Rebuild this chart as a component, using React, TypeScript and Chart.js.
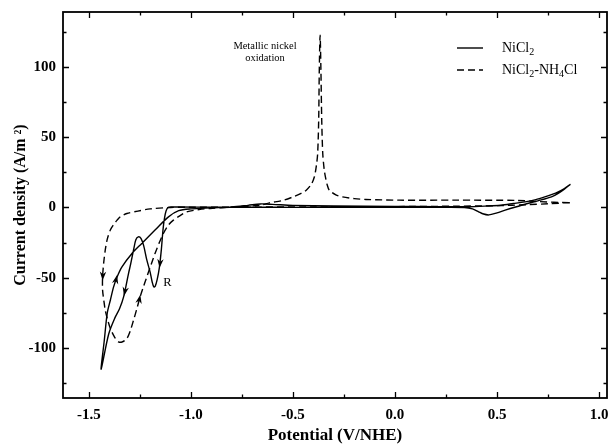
import React, { useEffect, useRef } from "react";
import { Chart, registerables } from "chart.js";

Chart.register(...registerables);

// ---- Axis ranges & ticks ----
const X_MIN = -1.627;
const X_MAX = 1.039;
const Y_MIN = -135.5;
const Y_MAX = 139;
const X_STEP = 0.5;
const Y_STEP = 50;
const X_MINOR = [-1.5, -1.25, -1.0, -0.75, -0.5, -0.25, 0, 0.25, 0.5, 0.75, 1.0];
const Y_MINOR = [-125, -100, -75, -50, -25, 0, 25, 50, 75, 100, 125];

// ---- Series: NiCl2 (solid) ----
const nicl2X = [
  0.86, 0.83, 0.8, 0.767, 0.7, 0.62, 0.54, 0.5, 0.46, 0.43, 0.41, 0.38, 0.34, 0.2, 0.0, -0.3, -0.6, -0.9, -1.05,
  -1.09, -1.111, -1.122, -1.13, -1.137, -1.145, -1.155, -1.165, -1.175, -1.182, -1.19, -1.2, -1.216, -1.232,
  -1.245, -1.258, -1.27, -1.281, -1.295, -1.306, -1.33, -1.35, -1.371, -1.403, -1.44,
  -1.425, -1.41, -1.395, -1.379, -1.362, -1.338, -1.289, -1.241, -1.176, -1.11, -1.06, -1.0, -0.9, -0.8, -0.72,
  -0.66, -0.6, -0.5, -0.3, 0.0, 0.2, 0.36, 0.45, 0.52, 0.58, 0.637, 0.69, 0.734, 0.77, 0.8, 0.83, 0.86,
];
const nicl2Y = [
  16.5, 13, 10, 7.5, 4.7, 1.6, -1.9, -3.8, -5.3, -4.5, -3.1, -1.0, 0, 0.1, 0.1, 0.1, 0.1, 0.2, 0.3,
  0.3, 0, -2.5, -8, -16, -30, -43, -51, -56, -56.5, -53, -46, -37.5, -27,
  -22, -20.9, -23, -30, -40, -47, -63.6, -72, -78, -90, -115,
  -95, -75, -66, -56.5, -49.4, -42.2, -32.7, -25.6, -16.1, -6.7, -2.3, -1.0, -0.3, 0.3, 1.5,
  2.5, 2.2, 1.5, 1.0, 0.8, 0.6, 0.5, 1.0, 1.6, 2.8, 4, 5.6, 7.5, 9.3, 11.1, 13.5, 16.5,
];

// ---- Series: NiCl2-NH4Cl (dashed) ----
const nh4X = [
  0.857, 0.75, 0.65, 0.5, 0.3, 0.0, -0.4, -0.8, -1.02, -1.1, -1.2, -1.26, -1.314, -1.345, -1.362, -1.38, -1.395,
  -1.41, -1.42, -1.428, -1.433, -1.433, -1.427, -1.42, -1.408, -1.395, -1.375, -1.355, -1.335, -1.314, -1.298,
  -1.281, -1.265, -1.249, -1.232, -1.216, -1.195, -1.176, -1.155, -1.135, -1.11, -1.086, -1.05, -1.021, -0.96,
  -0.907, -0.8, -0.663, -0.615, -0.55, -0.5, -0.46, -0.435, -0.41, -0.395, -0.385, -0.379, -0.374, -0.371,
  -0.367, -0.363, -0.359, -0.354, -0.347, -0.341, -0.332, -0.322, -0.29, -0.257, -0.2, -0.143, 0.02, 0.3, 0.6,
  0.7, 0.857,
];
const nh4Y = [
  3.3, 2.6, 2.0, 1.3, 0.9, 0.6, 0.4, 0.2, 0.1, 0, -1.0, -2.6, -4.3, -6.5, -9, -12.5, -16,
  -22.5, -30.4, -40, -49.3, -58.8, -66, -73, -80, -86, -92, -95.6, -95.5, -93.2, -88,
  -80, -72, -63.6, -56, -49.3, -40.5, -32.7, -25, -18.5, -12.5, -9, -5.5, -3.1, -1.5,
  -0.7, 0.3, 1.6, 3.3, 5, 7.5, 10, 12.3, 16.5, 21.8, 30, 38.4, 62, 97.6,
  122.5, 97.6, 62, 38.4, 27, 21.8, 16, 12.3, 9, 7.5, 6.3, 5.7, 5.2, 5.2, 5.0,
  4.2, 3.3,
];

// ---- Direction arrows: [seriesIndex, xFrom, yFrom, xTip, yTip] ----
const arrows: number[][] = [
  [0, -1.146, -32, -1.154, -43],
  [0, -1.376, -57, -1.362, -48],
  [0, -1.31, -50, -1.328, -63],
  [1, -1.429, -40, -1.433, -52],
  [1, -1.262, -72, -1.248, -62],
];

// ---- Text annotations: [text, x, y, fontSize] ----
const annotations: [string, number, number, number][] = [
  ["Metallic nickel", -0.637, 114.5, 10.5],
  ["oxidation", -0.637, 106, 10.5],
  ["R", -1.115, -53.5, 12.5],
];

// ---- Legend labels (text parts, subscript flag) ----
const legendLabels: [string, boolean][][] = [
  [["NiCl", false], ["2", true]],
  [["NiCl", false], ["2", true], ["-NH", false], ["4", true], ["Cl", false]],
];

const SERIES_NAMES = ["NiCl2", "NiCl2-NH4Cl"];
const X_TITLE = "Potential (V/NHE)";
const Y_TITLE = "Current density (A/m \u00B2)";

const FONT = "'Liberation Serif', 'Times New Roman', serif";

function toPoints(xs: number[], ys: number[]) {
  return xs.map((x, i) => ({ x, y: ys[i] }));
}

const decorPlugin = {
  id: "decor",
  afterDatasetsDraw(chart: any) {
    const { ctx, chartArea, scales } = chart;
    const xs = scales.x;
    const ys = scales.y;
    const { left, right, top, bottom } = chartArea;
    ctx.save();
    ctx.strokeStyle = "#000";
    ctx.fillStyle = "#000";

    // frame
    ctx.lineWidth = 1.8;
    ctx.strokeRect(left, top, right - left, bottom - top);

    // ticks (inward, all four sides)
    ctx.lineWidth = 1.3;
    ctx.beginPath();
    X_MINOR.forEach((v) => {
      const major = Math.abs(v / X_STEP - Math.round(v / X_STEP)) < 1e-6;
      const len = major ? 6 : 3.5;
      const px = Math.round(xs.getPixelForValue(v)) + 0.5;
      ctx.moveTo(px, bottom);
      ctx.lineTo(px, bottom - len);
      ctx.moveTo(px, top);
      ctx.lineTo(px, top + len);
    });
    Y_MINOR.forEach((v) => {
      const major = Math.abs(v / Y_STEP - Math.round(v / Y_STEP)) < 1e-6;
      const len = major ? 6 : 3.5;
      const py = Math.round(ys.getPixelForValue(v)) + 0.5;
      ctx.moveTo(left, py);
      ctx.lineTo(left + len, py);
      ctx.moveTo(right, py);
      ctx.lineTo(right - len, py);
    });
    ctx.stroke();

    // arrows
    arrows.forEach(([, x0, y0, x1, y1]) => {
      const ax = xs.getPixelForValue(x0);
      const ay = ys.getPixelForValue(y0);
      const bx = xs.getPixelForValue(x1);
      const by = ys.getPixelForValue(y1);
      const dx = bx - ax;
      const dy = by - ay;
      const d = Math.hypot(dx, dy) || 1;
      const ux = dx / d;
      const uy = dy / d;
      const L = 9;
      const W = 3.2;
      ctx.beginPath();
      ctx.moveTo(bx, by);
      ctx.lineTo(bx - ux * L - uy * W, by - uy * L + ux * W);
      ctx.lineTo(bx - ux * L * 0.7, by - uy * L * 0.7);
      ctx.lineTo(bx - ux * L + uy * W, by - uy * L - ux * W);
      ctx.closePath();
      ctx.fill();
    });

    // annotations
    ctx.textAlign = "center";
    ctx.textBaseline = "middle";
    annotations.forEach(([t, x, y, size]) => {
      ctx.font = `${size}px ${FONT}`;
      ctx.fillText(t, xs.getPixelForValue(x), ys.getPixelForValue(y));
    });

    // legend
    const lx0 = right - 150;
    const lx1 = right - 124;
    const tx = right - 105;
    const rowY = [top + 36, top + 58];
    legendLabels.forEach((parts, i) => {
      const y = rowY[i];
      ctx.lineWidth = 1.4;
      ctx.setLineDash(i === 1 ? [7, 4] : []);
      ctx.beginPath();
      ctx.moveTo(lx0, y);
      ctx.lineTo(lx1, y);
      ctx.stroke();
      ctx.setLineDash([]);
      ctx.textAlign = "left";
      ctx.textBaseline = "middle";
      let cx = tx;
      parts.forEach(([t, sub]) => {
        ctx.font = sub ? `10px ${FONT}` : `14px ${FONT}`;
        ctx.fillText(t, cx, sub ? y + 4 : y);
        cx += ctx.measureText(t).width;
      });
    });

    ctx.restore();
  },
};

export default function App() {
  const canvasRef = useRef<HTMLCanvasElement | null>(null);

  useEffect(() => {
    const canvas = canvasRef.current;
    if (!canvas) return;
    const tickFont = { family: FONT, size: 15, weight: "bold" as const };
    const chart = new Chart(canvas, {
      type: "line",
      data: {
        datasets: [
          {
            label: SERIES_NAMES[0],
            data: toPoints(nicl2X, nicl2Y),
            borderColor: "#000",
            borderWidth: 1.4,
            pointRadius: 0,
            tension: 0.3,
            fill: false,
          },
          {
            label: SERIES_NAMES[1],
            data: toPoints(nh4X, nh4Y),
            borderColor: "#000",
            borderWidth: 1.4,
            borderDash: [7, 4],
            pointRadius: 0,
            tension: 0.3,
            fill: false,
          },
        ],
      },
      options: {
        responsive: false,
        animation: false,
        parsing: false as any,
        layout: { padding: { left: 0, top: 12, right: 4, bottom: 0 } },
        plugins: { legend: { display: false }, tooltip: { enabled: false } },
        scales: {
          x: {
            type: "linear",
            min: X_MIN,
            max: X_MAX,
            grid: { display: false, drawTicks: false },
            border: { display: false },
            ticks: {
              stepSize: X_STEP,
              includeBounds: false,
              autoSkip: false,
              maxRotation: 0,
              color: "#000",
              font: tickFont,
              padding: 8,
              callback: (v: any) => Number(v).toFixed(1),
            },
            title: {
              display: true,
              text: X_TITLE,
              color: "#000",
              font: { family: FONT, size: 17, weight: "bold" as const },
              padding: { top: 0, bottom: 0 },
            },
            afterFit: (s: any) => {
              s.height = 48;
              s.paddingLeft = 0;
              s.paddingRight = 0;
            },
          },
          y: {
            type: "linear",
            min: Y_MIN,
            max: Y_MAX,
            grid: { display: false, drawTicks: false },
            border: { display: false },
            ticks: {
              stepSize: Y_STEP,
              includeBounds: false,
              color: "#000",
              font: tickFont,
              padding: 7,
              callback: (v: any) => String(Math.round(Number(v))),
            },
            title: {
              display: true,
              text: Y_TITLE,
              color: "#000",
              font: { family: FONT, size: 16, weight: "bold" as const },
              padding: { top: 11, bottom: 0 },
            },
            afterFit: (s: any) => {
              s.width = 63;
              s.paddingTop = 0;
              s.paddingBottom = 0;
            },
          },
        },
      },
      plugins: [decorPlugin],
    });
    return () => chart.destroy();
  }, []);

  return (
    <div style={{ position: "fixed", left: 0, top: 0, width: 611, height: 446, background: "#fff" }}>
      <canvas ref={canvasRef} width={611} height={446} style={{ width: 611, height: 446 }} />
    </div>
  );
}
